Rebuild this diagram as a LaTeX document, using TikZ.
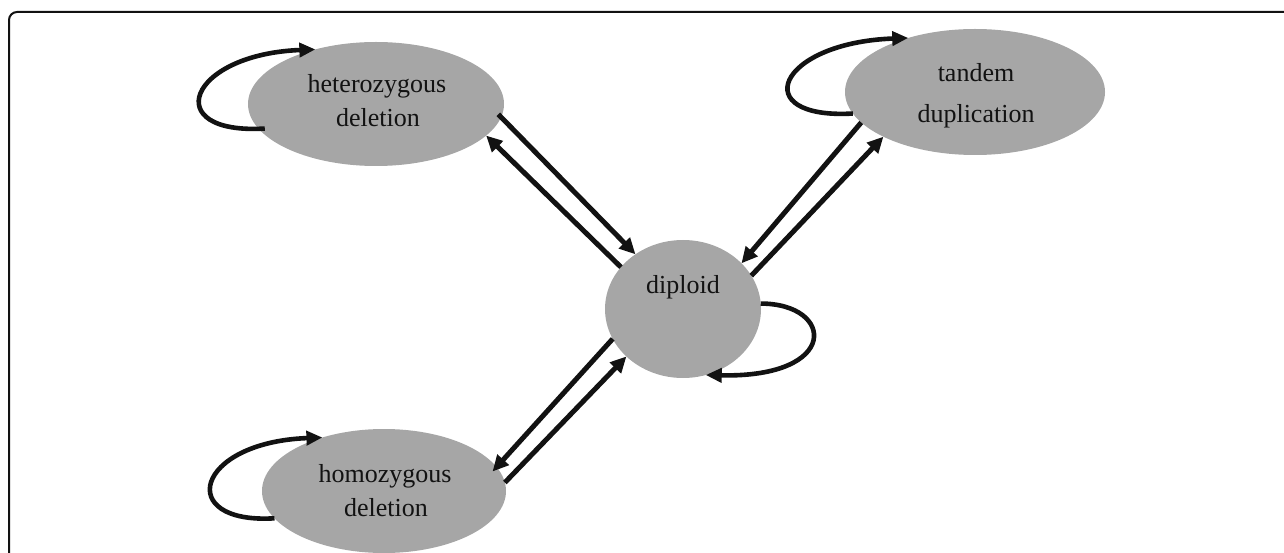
\documentclass[tikz,border=0pt]{standalone}
\usepackage{fontspec}
\setmainfont{Liberation Serif}
\usetikzlibrary{arrows.meta,shapes.geometric}
\definecolor{nodegray}{RGB}{166,166,166}
\definecolor{ink}{RGB}{18,18,18}
\begin{document}
\begin{tikzpicture}[x=1pt,y=-1pt,
  state/.style={ellipse, fill=nodegray, draw=none, inner sep=0pt, outer sep=0pt},
  lbl/.style={font=\fontsize{26}{31}\selectfont, text=ink, inner sep=0pt, anchor=base},
  conn/.style={line width=5pt, draw=ink, -{Triangle[length=16pt,width=15pt]}},
  loopc/.style={line width=4.6pt, draw=ink, -{Triangle[length=16pt,width=14pt]}},
  frame/.style={line width=2pt, draw=ink, rounded corners=8pt}]
\useasboundingbox (0,0) rectangle (1284,553);
\draw[frame] (9,553) -- (9,12) -- (1284,12);

\node[state, minimum width=256pt, minimum height=124pt] (het) at (376,104) {};
\node[state, minimum width=260pt, minimum height=126pt] (tan) at (975,92) {};
\node[state, minimum width=244pt, minimum height=124pt] (hom) at (384,491) {};
\node[state, minimum width=156pt, minimum height=138pt] (dip) at (683,309) {};

\node[lbl] (hetA) at (377,93) {heterozygous};
\node[lbl] (hetB) at (378,127) {deletion};
\node[lbl] (tanA) at (976,82) {tandem};
\node[lbl] (tanB) at (976,123) {duplication};
\node[lbl] (homA) at (385,482) {homozygous};
\node[lbl] (homB) at (386,516) {deletion};
\node[lbl] (dipA) at (683,293) {diploid};

% connectors between states
\draw[conn, shorten <=-4pt] (het.-6) -- (dip.131);
\draw[conn] (dip.146) -- (het.-16);
\draw[conn] (tan.195) -- (dip.38);
\draw[conn] (dip.26) -- (tan.206);
\draw[conn, shorten >=-6pt] (dip.203) -- (hom.12.6);
\draw[conn] (hom.4) -- (dip.220.5);

% self loops
\draw[loopc, shorten <=-6pt] (het.192) .. controls +(-100,6) and +(-128,5) .. (het.138.5);
\draw[loopc] (tan.190.7) .. controls +(-106,6) and +(-132,5) .. (tan.141.3);
\draw[loopc] (hom.194.2) .. controls +(-100,6) and +(-128,5) .. (hom.139.2);
\draw[loopc] (dip.4.4) .. controls +(74,0) and +(135,3) .. (dip.-71.6);
\end{tikzpicture}
\end{document}
